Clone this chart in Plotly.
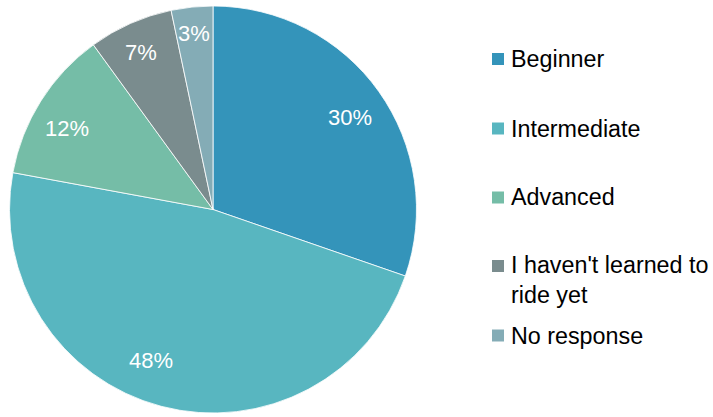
import math
import plotly.graph_objects as go

# ---- data ----
categories = ["Beginner", "Intermediate", "Advanced", "I haven't learned to ride yet", "No response"]
legend_labels = ["Beginner", "Intermediate", "Advanced", "I haven't learned to<br>ride yet", "No response"]
values = [30.3, 47.6, 12.1, 6.7, 3.3]
colors = ["#3494BA", "#58B6C0", "#75BDA7", "#7A8C8E", "#84ACB6"]

W, H = 713, 417
FONT = "Arial, Liberation Sans, sans-serif"

# pie geometry (pixels)
left, right, top, bottom = 9, 417, 6, 413
cx, cy = (left + right) / 2, (top + bottom) / 2
R = min(right - left, bottom - top) / 2

fig = go.Figure(go.Pie(
    labels=categories,
    values=values,
    sort=False,
    direction="clockwise",
    rotation=0,
    marker=dict(colors=colors, line=dict(color="white", width=0.8)),
    textinfo="none",
    hoverinfo="label+percent",
    showlegend=False,
    domain=dict(x=[left / W, right / W], y=[1 - bottom / H, 1 - top / H]),
))

annotations = []
shapes = []

# slice percentage labels placed near the outer part of each slice
label_r = [0.81, 0.80, 0.82, 0.85, 0.87]
label_dang = [1.4, 7.6, -3.0, -0.6, -0.2]  # degrees of shift from slice mid-angle
total = sum(values)
cum = 0.0
for v, rf, da in zip(values, label_r, label_dang):
    mid = (cum + v / 2) / total * 2 * math.pi + math.radians(da)
    cum += v
    px = cx + rf * R * math.sin(mid)
    py = cy - rf * R * math.cos(mid)
    annotations.append(dict(
        x=px / W, y=1 - py / H, xref="paper", yref="paper",
        text=f"{round(v / total * 100)}%", showarrow=False,
        font=dict(family=FONT, size=22, color="white"),
        xanchor="center", yanchor="middle",
    ))

# manual legend
legend_y = [59, 128.5, 197.5, 280, 335.5]
marker_y = [59, 128.5, 197.5, 266, 335.5]
for lab, col, ty, my in zip(legend_labels, colors, legend_y, marker_y):
    shapes.append(dict(
        type="rect", xref="paper", yref="paper",
        x0=492 / W, x1=504 / W, y0=1 - (my + 6) / H, y1=1 - (my - 6) / H,
        fillcolor=col, line=dict(width=0),
    ))
    annotations.append(dict(
        x=509 / W, y=1 - ty / H, xref="paper", yref="paper",
        text=lab, showarrow=False, align="left",
        font=dict(family=FONT, size=23.3, color="#000000"),
        xanchor="left", yanchor="middle",
    ))

fig.update_layout(
    width=W, height=H,
    margin=dict(l=0, r=0, t=0, b=0),
    paper_bgcolor="white",
    plot_bgcolor="white",
    annotations=annotations,
    shapes=shapes,
)

fig.write_html(
    "out.html",
    config={"displayModeBar": False},
    post_script="document.body.style.margin='0';document.body.style.overflow='hidden';",
)
